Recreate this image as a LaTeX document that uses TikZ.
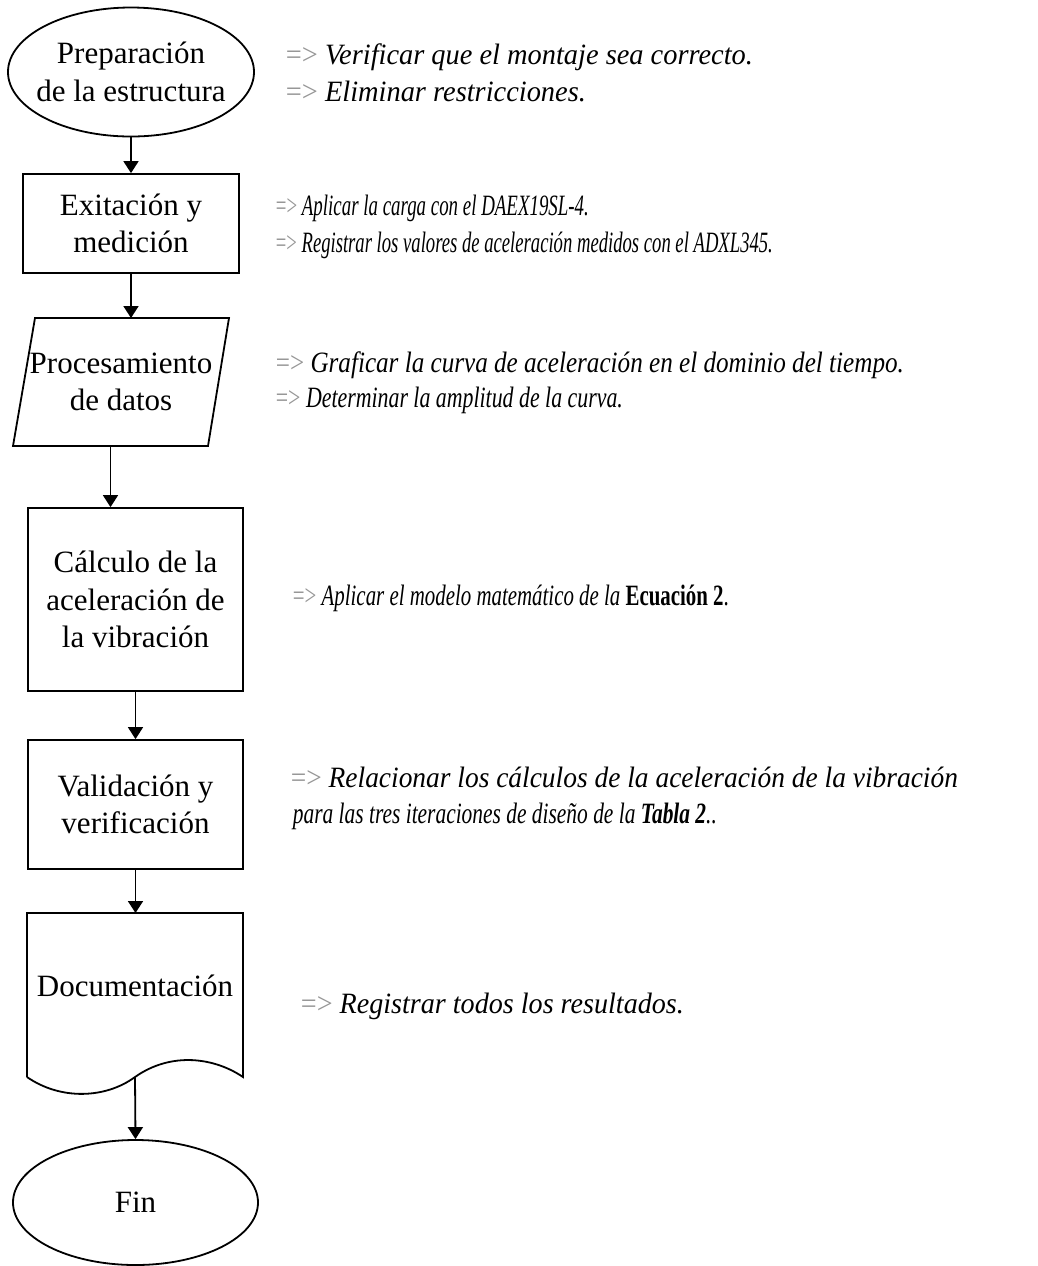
\documentclass[tikz,border=0pt]{standalone}
\usepackage{fontspec}
\usepackage{graphicx}
\setmainfont{Liberation Serif}
\usetikzlibrary{shapes.geometric,arrows.meta}
\definecolor{arrowgray}{RGB}{150,150,150}
% one note line, stretched or squeezed horizontally to a given width (in pt)
\newcommand{\fitw}[2]{\resizebox{#1pt}{\height}{#2}}
\newcommand{\arrw}{\textcolor{arrowgray}{\upshape=>}\ }
\begin{document}
\begin{tikzpicture}[x=0.5pt,y=-0.5pt,line width=0.9pt,
  flow/.style={-{Triangle[length=6pt,width=7.5pt]}},
  boxfont/.style={font=\fontsize{15.5}{18.75}\selectfont},
  procbox/.style={draw,rectangle,boxfont,align=center,inner sep=0pt},
  termbox/.style={draw,ellipse,boxfont,align=center,inner sep=0pt},
  note/.style={anchor=base west,inner sep=0pt,font=\fontsize{14.75}{17}\selectfont\itshape}]
\useasboundingbox (0,0) rectangle (1038,1266);

% --- flow chart column ---
\node[termbox,inner xsep=-6pt,minimum width=123pt,minimum height=64.5pt] (prep) at (131,72) {Preparación\\de la estructura};
\node[procbox,minimum width=108pt,minimum height=49.5pt] (exc) at (131,223.5) {Exitación y\\medición};

% data (parallelogram)
\coordinate (procTL) at (35,318);
\coordinate (procTR) at (229,318);
\coordinate (procBR) at (208,446);
\coordinate (procBL) at (13,446);
\coordinate (procTop) at (132,318);
\coordinate (procBot) at (110.5,446);
\draw (procTL) -- (procTR) -- (procBR) -- (procBL) -- cycle;
\node[boxfont,align=center,inner sep=0pt] (proc) at (121,382) {Procesamiento\\de datos};

\node[procbox,minimum width=107.5pt,minimum height=91.5pt] (calc) at (135.5,599.5) {Cálculo de la\\aceleración de\\la vibración};
\node[procbox,minimum width=107.5pt,minimum height=64.5pt] (valid) at (135.5,804.5) {Validación y\\verificación};

% document symbol with wavy bottom
\coordinate (docTop) at (135.5,913);
\coordinate (docBot) at (135,1077);
\draw (27,1077) -- (27,913) -- (243,913) -- (243,1077)
  .. controls (215,1058) and (172,1051) .. (docBot)
  .. controls (105,1099) and (60,1100) .. (27,1077);
\node[boxfont,inner sep=0pt] (doc) at (135,986) {Documentación};

\node[termbox,minimum width=122.5pt,minimum height=62.5pt] (fin) at (135.5,1202.5) {Fin};

% --- connectors ---
\draw[flow] (prep.south) -- (exc.north);
\draw[flow] (exc.south) -- (exc.south |- procTop);
\draw[flow] (procBot) -- (procBot |- calc.north);
\draw[flow] (calc.south) -- (valid.north);
\draw[flow] (valid.south) -- (docTop);
\draw[flow] (docBot) -- (fin.north);

% --- notes ---
\node[note] (n1a) at (285,64) {\fitw{233.5}{\arrw Verificar que el montaje sea correcto.}};
\node[note] (n1b) at (285,101) {\fitw{150}{\arrw Eliminar restricciones.}};
\node[note] (n2a) at (275,215) {\fitw{156.5}{\arrw Aplicar la carga con el DAEX19SL-4.}};
\node[note] (n2b) at (275,252) {\fitw{248.5}{\arrw Registrar los valores de aceleración medidos con el ADXL345.}};
\node[note] (n3a) at (275,372) {\fitw{314}{\arrw Graficar la curva de aceleración en el dominio del tiempo.}};
\node[note] (n3b) at (275,407) {\fitw{173.5}{\arrw Determinar la amplitud de la curva.}};
\node[note] (n4) at (292,605) {\fitw{218}{\arrw Aplicar el modelo matemático de la \textup{\textbf{Ecuación 2}.}}};
\node[note] (n5a) at (290,787) {\fitw{333.5}{\arrw Relacionar los cálculos de la aceleración de la vibración}};
\node[note] (n5b) at (292,823) {\fitw{212}{para las tres iteraciones de diseño de la \textbf{Tabla 2}..}};
\node[note] (n6) at (300,1013) {\fitw{191.5}{\arrw Registrar todos los resultados.}};
\end{tikzpicture}
\end{document}
